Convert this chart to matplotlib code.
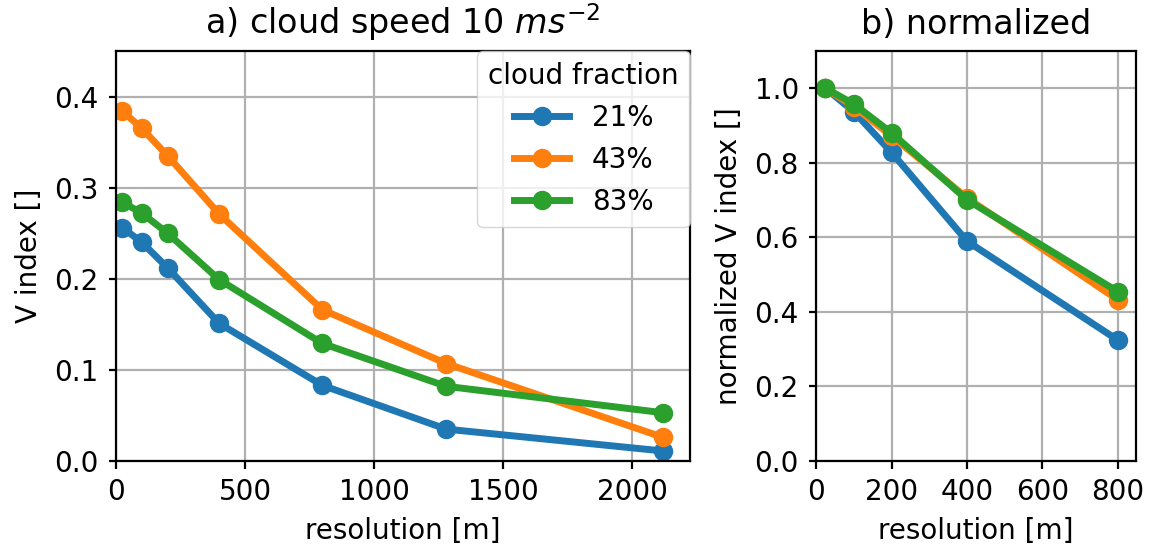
import matplotlib
matplotlib.use("Agg")
import matplotlib.pyplot as plt
import numpy as np

# resolution of the runs [m]
resolution = [25, 100, 200, 400, 800, 1280, 2120]
# V index per cloud fraction
v_21 = [0.256, 0.240, 0.212, 0.151, 0.083, 0.035, 0.011]
v_43 = [0.384, 0.365, 0.335, 0.271, 0.166, 0.107, 0.026]
v_83 = [0.284, 0.272, 0.250, 0.199, 0.129, 0.082, 0.053]
labels = ["21%", "43%", "83%"]
n_norm = 5  # normalized panel only uses resolutions up to 800 m

s = 2.0  # scale of the default style
plt.rcParams.update({
    "font.size": 10 * s,
    "lines.linewidth": 2.5 * s,
    "lines.markersize": 6 * s,
    "lines.markeredgewidth": 1.0 * s,
    "axes.linewidth": 0.8 * s,
    "grid.linewidth": 0.8 * s,
    "grid.color": "#b0b0b0",
    "xtick.major.size": 2.7 * s,
    "ytick.major.size": 2.7 * s,
    "xtick.major.width": 0.8 * s,
    "ytick.major.width": 0.8 * s,
    "xtick.major.pad": 3.5 * s,
    "ytick.major.pad": 3.5 * s,
    "axes.titlepad": 6 * s,
    "axes.labelpad": 4 * s,
    "legend.fontsize": 10 * s,
    "legend.title_fontsize": 10 * s,
})

fig = plt.figure(figsize=(11.51, 5.5), dpi=100)
ax1 = fig.add_axes([0.1008, 0.1618, 0.4987, 0.7455])
ax2 = fig.add_axes([0.709, 0.1618, 0.278, 0.7455])

res = np.array(resolution)
for v, lab in zip([v_21, v_43, v_83], labels):
    v = np.array(v)
    ax1.plot(res, v, "o-", label=lab)
    ax2.plot(res[:n_norm], v[:n_norm] / v[0], "o-")

ax1.set_xlim(0, 2225)
ax1.set_ylim(0, 0.45)
ax1.set_xticks([0, 500, 1000, 1500, 2000])
ax1.set_yticks([0.0, 0.1, 0.2, 0.3, 0.4])
ax1.grid(True)
ax1.set_axisbelow(True)
ax1.set_xlabel("resolution [m]")
ax1.set_ylabel("V index []")
ax1.set_title("a) cloud speed 10 $ms^{-2}$")
ax1.legend(title="cloud fraction", loc="upper right", borderaxespad=0.0)

ax2.set_xlim(0, 848)
ax2.set_ylim(0, 1.1)
ax2.set_xticks([0, 200, 400, 600, 800])
ax2.set_yticks([0.0, 0.2, 0.4, 0.6, 0.8, 1.0])
ax2.grid(True)
ax2.set_axisbelow(True)
ax2.set_xlabel("resolution [m]")
ax2.set_ylabel("normalized V index []")
ax2.set_title("b) normalized")

fig.savefig("out.png", dpi=100)
